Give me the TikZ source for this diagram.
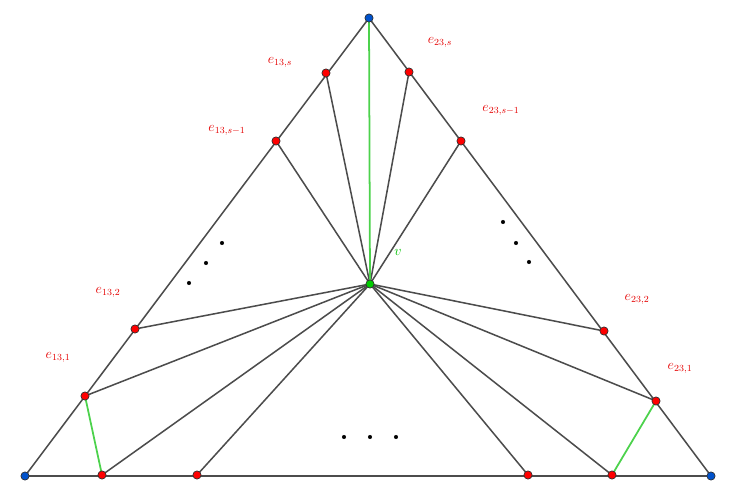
\documentclass[tikz,border=0pt]{standalone}
\begin{document}
\begin{tikzpicture}[x=0.03cm,y=-0.03cm,
  ln/.style={draw=black!70,line width=1.3pt},
  gl/.style={draw=green!75!black!70!white,line width=1.5pt},
  rp/.style={circle,fill=red,draw=black!80,inner sep=0pt,minimum size=7pt,line width=0.6pt},
  bp/.style={circle,fill=blue!60!cyan!80!black,draw=black!80,inner sep=0pt,minimum size=7pt,line width=0.6pt},
  gp/.style={circle,fill=green!80!black,draw=black!80,inner sep=0pt,minimum size=7pt,line width=0.6pt},
  lb/.style={text=red!90!black,font=\large},
  dt/.style={circle,fill=black,inner sep=0pt,minimum size=3.5pt}]
\useasboundingbox (0,0) rectangle (729,503);
\coordinate (T) at (369,18);
\coordinate (L) at (25,476);
\coordinate (R) at (711,476);
\coordinate (V) at (370,284);
\coordinate (a1) at (85,396);
\coordinate (a2) at (135,329);
\coordinate (a3) at (276,141);
\coordinate (a4) at (326,73);
\coordinate (b1) at (656,401);
\coordinate (b2) at (604,331);
\coordinate (b3) at (461,141);
\coordinate (b4) at (409,72);
\coordinate (c1) at (102,475);
\coordinate (c2) at (197,475);
\coordinate (c3) at (528,475);
\coordinate (c4) at (612,475);
\draw[ln] (T) -- (L) -- (R) -- cycle;
\foreach \p in {a1,a2,a3,a4,b1,b2,b3,b4,c1,c2,c3,c4} \draw[ln] (V) -- (\p);
\draw[gl] (T) -- (V);
\draw[gl] (a1) -- (c1);
\draw[gl] (b1) -- (c4);
\foreach \p in {a1,a2,a3,a4,b1,b2,b3,b4,c1,c2,c3,c4} \node[rp] at (\p) {};
\node[bp] (nT) at (T) {};
\node[bp] (nL) at (L) {};
\node[bp] (nR) at (R) {};
\node[gp] (nV) at (V) {};
\node[text=green!75!black,font=\large] (lv) at (398,252) {$v$};
\node[lb] (l1) at (280,62) {$e_{13,s}$};
\node[lb] (l2) at (440,42) {$e_{23,s}$};
\node[lb] (l3) at (227,130) {$e_{13,s-1}$};
\node[lb] (l4) at (501,110) {$e_{23,s-1}$};
\node[lb] (l5) at (108,292) {$e_{13,2}$};
\node[lb] (l6) at (637,299) {$e_{23,2}$};
\node[lb] (l7) at (58,357) {$e_{13,1}$};
\node[lb] (l8) at (680,368) {$e_{23,1}$};
\foreach \q in {(189,283),(206,263),(222,243),(503,222),(516,243),(529,262),(344,437),(370,437),(396,437)} \node[dt] at \q {};
\end{tikzpicture}
\end{document}
